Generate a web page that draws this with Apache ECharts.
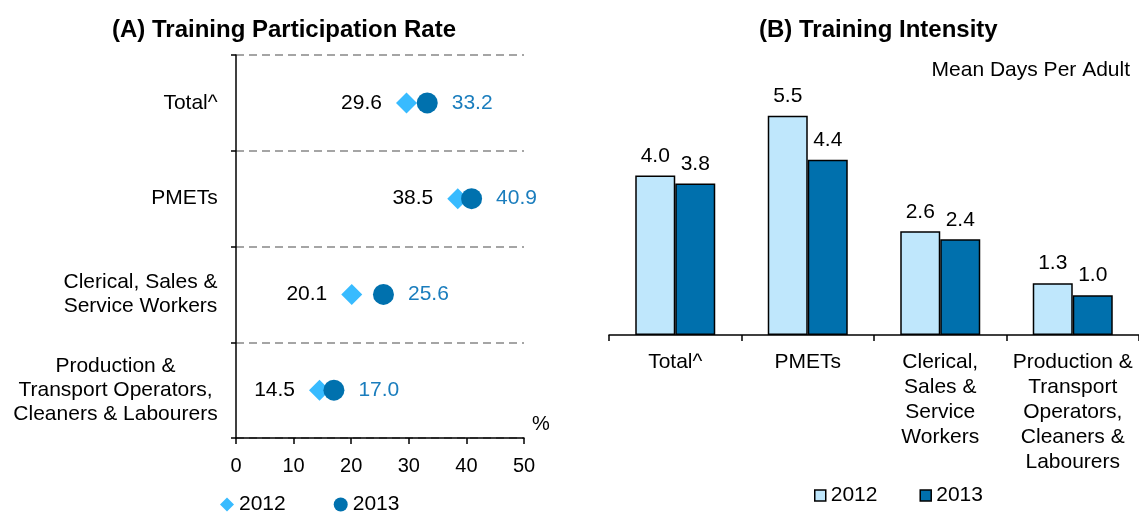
<!DOCTYPE html>
<html>
<head>
<meta charset="utf-8">
<script src="https://cdn.jsdelivr.net/npm/echarts@6/dist/echarts.min.js"></script>
<style>
    html, body { margin: 0; padding: 0; background: #fff; }
    #chart { width: 1139px; height: 513px; }
</style>
</head>
<body>
<div id="chart"></div>
<script>
// (A) participation rate, %
const rateCats = ['Total^', 'PMETs', 'Clerical, Sales &\nService Workers', 'Production &\nTransport Operators,\nCleaners & Labourers'];
const rate2012 = [29.6, 38.5, 20.1, 14.5];
const rate2013 = [33.2, 40.9, 25.6, 17.0];

// (B) intensity, mean days per adult
const dayCats = ['Total^', 'PMETs', 'Clerical,\nSales &\nService\nWorkers', 'Production &\nTransport\nOperators,\nCleaners &\nLabourers'];
const days2012 = [4.0, 5.5, 2.6, 1.3];
const days2013 = [3.8, 4.4, 2.4, 1.0];

const FONT = '"Liberation Sans", Arial, sans-serif';
const c2012 = '#38bbff', c2013 = '#0071ae', lbl2013 = '#1a7dbd';
const bar2012 = '#bfe7fc', bar2013 = '#0070ad';

// centred multi-line blocks on the left axis need a fixed width per label
const ctx = document.createElement('canvas').getContext('2d');
ctx.font = '21px ' + FONT;
let rich = {};
rateCats.forEach((c, i) => {
    let w = Math.max(...c.split('\n').map(l => ctx.measureText(l).width));
    rich['c' + i] = { width: Math.ceil(w), align: 'center', fontSize: 21, lineHeight: 24, color: '#000', fontFamily: FONT };
});

let myChart = echarts.init(document.getElementById('chart'), null, { renderer: 'canvas' });

let option = {
    animation: false,
    textStyle: { fontFamily: FONT },
    title: [
        { text: '(A) Training Participation Rate', left: 107, top: 13, textStyle: { fontSize: 24, fontWeight: 'bold', color: '#000', fontFamily: FONT } },
        { text: '(B) Training Intensity', left: 754, top: 13, textStyle: { fontSize: 24, fontWeight: 'bold', color: '#000', fontFamily: FONT } },
        { text: '%', left: 527, top: 409, textStyle: { fontSize: 20, fontWeight: 'normal', color: '#000', fontFamily: FONT } },
        { text: 'Mean Days Per Adult', right: 4, top: 55, textStyle: { fontSize: 21, fontWeight: 'normal', color: '#000', fontFamily: FONT } }
    ],
    legend: [
        {
            left: 215, top: 489, itemGap: 48, itemWidth: 14, itemHeight: 14,
            textStyle: { fontSize: 21, color: '#000', fontFamily: FONT },
            formatter: n => n.slice(2),
            data: [
                { name: 'A 2012', icon: 'diamond' },
                { name: 'A 2013', icon: 'circle' }
            ]
        },
        {
            left: 809, top: 480, itemGap: 42, itemWidth: 11, itemHeight: 11,
            textStyle: { fontSize: 21, color: '#000', fontFamily: FONT },
            formatter: n => n.slice(2),
            data: [
                { name: 'B 2012', icon: 'rect', itemStyle: { color: bar2012, borderColor: '#000', borderWidth: 1.5 } },
                { name: 'B 2013', icon: 'rect', itemStyle: { color: bar2013, borderColor: '#000', borderWidth: 1.5 } }
            ]
        }
    ],
    grid: [
        { left: 236, top: 55, width: 288, height: 383 },
        { left: 609, top: 56, width: 530, height: 279 }
    ],
    xAxis: [
        {
            gridIndex: 0, type: 'value', min: 0, max: 50, interval: 10,
            axisLine: { show: true, lineStyle: { color: '#000', width: 1.5 } },
            axisTick: { show: true, length: 6, lineStyle: { color: '#000', width: 1.5 } },
            axisLabel: { fontSize: 20, color: '#000', margin: 18, fontFamily: FONT },
            splitLine: { show: false }
        },
        {
            gridIndex: 1, type: 'category', data: dayCats,
            axisLine: { show: true, lineStyle: { color: '#000', width: 1.5 } },
            axisTick: { show: true, length: 6, lineStyle: { color: '#000', width: 1.5 } },
            axisLabel: { fontSize: 21, lineHeight: 25, color: '#000', margin: 15, interval: 0, fontFamily: FONT },
            splitLine: { show: false }
        }
    ],
    yAxis: [
        {
            gridIndex: 0, type: 'category', data: rateCats, inverse: true,
            axisLine: { show: true, lineStyle: { color: '#000', width: 1.5 } },
            axisTick: { show: true, length: 5, lineStyle: { color: '#000', width: 1.5 } },
            axisLabel: {
                margin: 18, interval: 0,
                formatter: (v, i) => v.split('\n').map(l => `{c${i}|${l}}`).join('\n'),
                rich: rich
            },
            splitLine: { show: true, lineStyle: { color: '#888', width: 1.5, type: [8, 5] } }
        },
        {
            gridIndex: 1, type: 'value', min: 0, max: 7, show: false,
            splitLine: { show: false }
        }
    ],
    series: [
        {
            name: 'A 2012', type: 'scatter', xAxisIndex: 0, yAxisIndex: 0,
            symbol: 'diamond', symbolSize: 21, z: 3,
            itemStyle: { color: c2012, opacity: 1 },
            label: { show: true, position: 'left', distance: 14, fontSize: 21, color: '#000', fontFamily: FONT, formatter: p => p.value[0].toFixed(1) },
            data: rate2012.map((v, i) => [v, rateCats[i]])
        },
        {
            name: 'A 2013', type: 'scatter', xAxisIndex: 0, yAxisIndex: 0,
            symbol: 'circle', symbolSize: 21, z: 4,
            itemStyle: { color: c2013, opacity: 1 },
            label: { show: true, position: 'right', distance: 14, fontSize: 21, color: lbl2013, fontFamily: FONT, formatter: p => p.value[0].toFixed(1) },
            data: rate2013.map((v, i) => [v, rateCats[i]])
        },
        {
            name: 'B 2012', type: 'bar', xAxisIndex: 1, yAxisIndex: 1,
            barWidth: 40, barGap: '0%',
            itemStyle: { color: bar2012, borderColor: '#000', borderWidth: 1.5 },
            label: { show: true, position: 'top', distance: 9, fontSize: 21, color: '#000', fontFamily: FONT, formatter: p => p.value.toFixed(1) },
            data: days2012
        },
        {
            name: 'B 2013', type: 'bar', xAxisIndex: 1, yAxisIndex: 1,
            barWidth: 40, barGap: '0%',
            itemStyle: { color: bar2013, borderColor: '#000', borderWidth: 1.5 },
            label: { show: true, position: 'top', distance: 9, fontSize: 21, color: '#000', fontFamily: FONT, formatter: p => p.value.toFixed(1) },
            data: days2013
        }
    ]
};
myChart.setOption(option);
</script>
</body>
</html>
